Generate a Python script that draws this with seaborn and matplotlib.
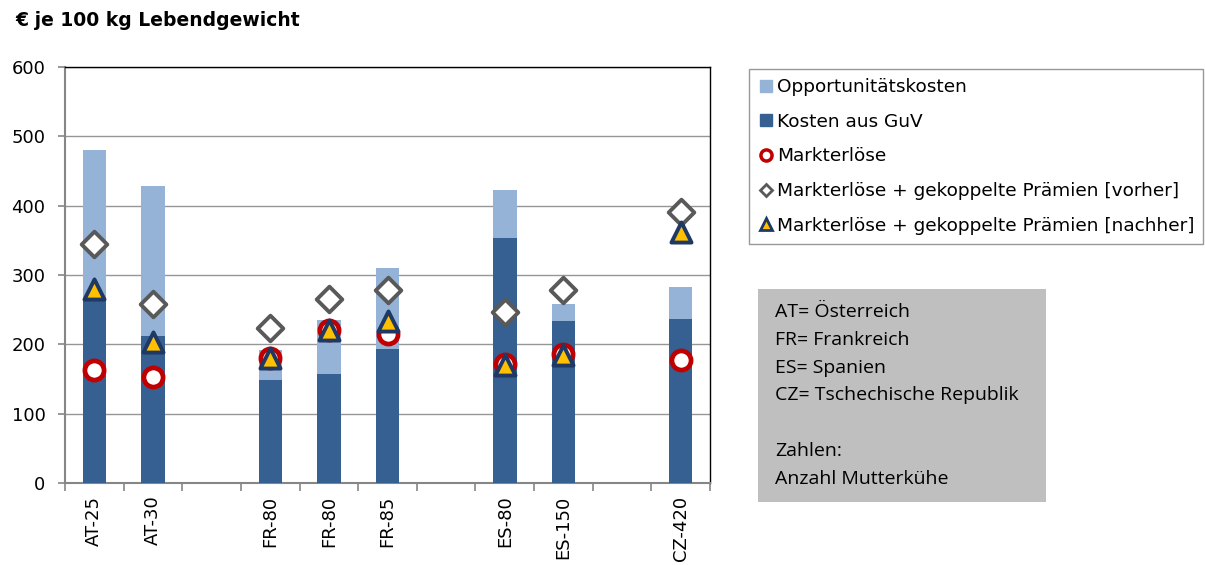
import matplotlib
matplotlib.use("Agg")
import matplotlib.pyplot as plt
from matplotlib.patches import Rectangle
from matplotlib.lines import Line2D
import seaborn as sns
import pandas as pd
import numpy as np

# ---- data ----
slot_labels = ["AT-25", "AT-30", None, "FR-80", "FR-80", "FR-85", None, "ES-80", "ES-150", None, "CZ-420"]
kosten_guv = [265, 212, 149, 157, 193, 353, 234, 237]
opportunitaet = [215, 217, 43, 78, 117, 70, 24, 45]
markterloese = [163, 153, 181, 221, 215, 172, 186, 178]
praemien_vorher = [345, 258, 223, 265, 278, 247, 278, 391]
praemien_nachher = [280, 204, 180, 221, 233, 170, 185, 362]
yticks = [0, 100, 200, 300, 400, 500, 600]

title = "€ je 100 kg Lebendgewicht"
lab_opp = "Opportunitätskosten"
lab_guv = "Kosten aus GuV"
lab_m = "Markterlöse"
lab_v = "Markterlöse + gekoppelte Prämien [vorher]"
lab_n = "Markterlöse + gekoppelte Prämien [nachher]"
info_lines = ["AT= Österreich", "FR= Frankreich", "ES= Spanien", "CZ= Tschechische Republik",
              "", "Zahlen:", "Anzahl Mutterkühe"]

# ---- build frame ----
pos = [i for i, l in enumerate(slot_labels) if l is not None]
names = [l for l in slot_labels if l is not None]
df = pd.DataFrame({
    "pos": pos,
    "name": names,
    "guv": kosten_guv,
    "opp": opportunitaet,
    "m": markterloese,
    "v": praemien_vorher,
    "n": praemien_nachher,
})
df["total"] = df["guv"] + df["opp"]

sns.set_theme(style="white")
plt.rcParams["font.family"] = ["DejaVu Sans"]
plt.rcParams["text.color"] = "black"
plt.rcParams["xtick.color"] = "black"
plt.rcParams["ytick.color"] = "black"

fig = plt.figure(figsize=(12.05, 5.65), dpi=100)
ax = fig.add_axes([65 / 1205, 1 - 483 / 565, 645 / 1205, 416 / 565])

light = "#95b3d7"
dark = "#366092"

sns.barplot(data=df, x="pos", y="total", native_scale=True, width=0.4, color=light,
            saturation=1, ax=ax, label=lab_opp, zorder=2, linewidth=0)
sns.barplot(data=df, x="pos", y="guv", native_scale=True, width=0.4, color=dark,
            saturation=1, ax=ax, label=lab_guv, zorder=3, linewidth=0)

sns.scatterplot(data=df, x="pos", y="v", marker="D", s=170, facecolor="white",
                edgecolor="#595959", linewidth=2.8, ax=ax, zorder=4)
sns.scatterplot(data=df, x="pos", y="m", marker="o", s=190, facecolor="white",
                edgecolor="#c00000", linewidth=3.4, ax=ax, zorder=5)
sns.scatterplot(data=df, x="pos", y="n", marker="^", s=210, facecolor="#ffc000",
                edgecolor="#1f3864", linewidth=2.8, ax=ax, zorder=6)

ax.set_xlim(-0.5, len(slot_labels) - 0.5)
ax.set_ylim(0, 600)
ax.set_yticks(yticks)
ax.set_yticklabels([str(t) for t in yticks], fontsize=13)
ax.set_xlabel("")
ax.set_ylabel("")

# x ticks: marks at boundaries, labels at centers
ax.set_xticks(np.arange(-0.5, len(slot_labels), 1.0))
ax.set_xticklabels([])
ax.set_xticks(pos, minor=True)
ax.set_xticklabels(names, minor=True, rotation=90, fontsize=13)
ax.tick_params(axis="x", which="major", direction="out", length=6, color="#868686", width=1.2, bottom=True)
ax.tick_params(axis="x", which="minor", length=0, pad=9)
ax.tick_params(axis="y", direction="out", length=5, color="#868686", width=1.2, left=True, pad=9)

ax.yaxis.grid(True, color="#969696", linewidth=1)
ax.set_axisbelow(True)
for s in ["top", "right"]:
    ax.spines[s].set_color("#000000")
    ax.spines[s].set_linewidth(1)
for s in ["left", "bottom"]:
    ax.spines[s].set_color("#868686")
    ax.spines[s].set_linewidth(1.5)

if ax.legend_ is not None:
    ax.legend_.remove()

# legend
order = [lab_opp, lab_guv, lab_m, lab_v, lab_n]
leg_handles = [
    Line2D([], [], marker="s", linestyle="none", markersize=8, markerfacecolor=light, markeredgecolor=light),
    Line2D([], [], marker="s", linestyle="none", markersize=8, markerfacecolor=dark, markeredgecolor=dark),
    Line2D([], [], marker="o", linestyle="none", markersize=8, markerfacecolor="white", markeredgecolor="#c00000", markeredgewidth=2.5),
    Line2D([], [], marker="D", linestyle="none", markersize=6, markerfacecolor="white", markeredgecolor="#595959", markeredgewidth=2),
    Line2D([], [], marker="^", linestyle="none", markersize=9, markerfacecolor="#ffc000", markeredgecolor="#1f3864", markeredgewidth=2),
]
leg = fig.legend(leg_handles, order, loc="upper left", bbox_to_anchor=(749 / 1205, 1 - 69 / 565),
                 fontsize=13.3, frameon=True, fancybox=False, edgecolor="#7f7f7f",
                 handlelength=0.8, handletextpad=0.2, labelspacing=0.9, borderpad=0.5,
                 borderaxespad=0)
leg.get_frame().set_linewidth(1)

# title
fig.text(15 / 1205, 1 - 21 / 565, title, fontsize=13.5, fontweight="bold", va="center", ha="left")

# info box
fig.patches.append(Rectangle((758 / 1205, 1 - 502 / 565), 288 / 1205, 213 / 565,
                             transform=fig.transFigure, facecolor="#bfbfbf", edgecolor="none"))
y0 = 312
for i, line in enumerate(info_lines):
    fig.text(775 / 1205, 1 - (y0 + i * 27.8) / 565, line, fontsize=14, family="Open Sans",
             va="center", ha="left", color="#000000")

fig.savefig("out.png", dpi=100)
